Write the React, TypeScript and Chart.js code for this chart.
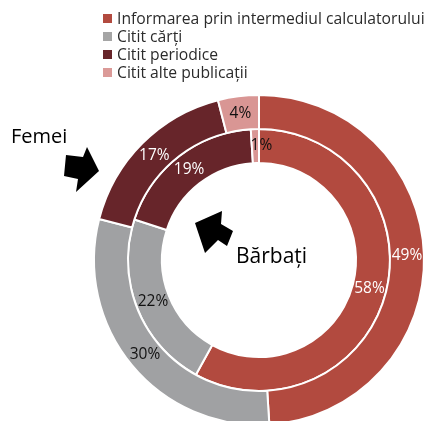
import React, { useEffect, useRef } from "react";
import { Chart, registerables } from "chart.js";

Chart.register(...registerables);

const categories = [
  "Informarea prin intermediul calculatorului",
  "Citit cărți",
  "Citit periodice",
  "Citit alte publicații",
];
const femei = [49, 30, 17, 4];
const barbati = [58, 22, 19, 1];
const seriesNames = ["Femei", "Bărbați"];
const colors = ["#B24A3F", "#A0A1A3", "#67252A", "#D99694"];
const legendColors = ["#B24A3F", "#A5A5A5", "#67252A", "#DB9A98"];
const labelColors = ["#FFFFFF", "#111111", "#FFFFFF", "#111111"];

const FONT = '"Open Sans", "DejaVu Sans", sans-serif';

const labelPlugin = {
  id: "pctLabels",
  afterDatasetsDraw(chart: any) {
    const ctx = chart.ctx;
    ctx.save();
    ctx.font = `15.5px ${FONT}`;
    ctx.textAlign = "center";
    ctx.textBaseline = "middle";
    chart.data.datasets.forEach((ds: any, di: number) => {
      const meta = chart.getDatasetMeta(di);
      meta.data.forEach((arc: any, i: number) => {
        const p = arc.tooltipPosition(false);
        const v = ds.data[i];
        // very thin slices: label shifted just past the slice
        const dx = v < 2 ? 6 : 0;
        ctx.fillStyle = labelColors[i];
        ctx.fillText(v + "%", p.x + dx, p.y);
      });
    });
    ctx.restore();
  },
};

export default function App() {
  const ref = useRef<HTMLCanvasElement | null>(null);

  useEffect(() => {
    if (!ref.current) return;
    const chart = new Chart(ref.current, {
      type: "doughnut",
      data: {
        labels: categories,
        datasets: [
          {
            label: seriesNames[0],
            data: femei,
            backgroundColor: colors,
            borderColor: "#FFFFFF",
            borderWidth: 2,
            hoverOffset: 0,
          },
          {
            label: seriesNames[1],
            data: barbati,
            backgroundColor: colors,
            borderColor: "#FFFFFF",
            borderWidth: 2,
            hoverOffset: 0,
          },
        ],
      },
      options: {
        responsive: false,
        animation: false,
        cutout: "58.8%",
        layout: { padding: { left: 93, right: 2, top: 94, bottom: 94 } },
        plugins: {
          legend: { display: false },
          tooltip: { enabled: false },
        },
        events: [],
      },
      plugins: [labelPlugin],
    });
    return () => chart.destroy();
  }, []);

  return (
    <div
      style={{
        position: "fixed",
        left: 0,
        top: 0,
        width: 427,
        height: 421,
        overflow: "hidden",
        background: "#FFFFFF",
      }}
    >
      <canvas
        ref={ref}
        width={427}
        height={520}
        style={{ position: "absolute", left: 0, top: 0, width: 427, height: 520 }}
      />
      <svg
        width={427}
        height={421}
        style={{ position: "absolute", left: 0, top: 0 }}
      >
        {categories.map((c, i) => (
          <g key={c}>
            <rect x={103} y={14 + i * 18} width={9} height={9} fill={legendColors[i]} />
            <text
              x={117}
              y={24 + i * 18}
              fontFamily={FONT}
              fontSize={15.7}
              fill="#2B2B2B"
            >
              {c}
            </text>
          </g>
        ))}
        <text x={11} y={143} fontFamily={FONT} fontSize={20} fill="#000000">
          {seriesNames[0]}
        </text>
        <polygon
          points="66,155 83,157 87,147 99,171 76,192 78,179 64,176"
          fill="#000000"
        />
        <polygon
          points="195,223 222,211 221,224 233,231 227,246 218,240 205,253"
          fill="#000000"
        />
        <text x={236} y={263} fontFamily={FONT} fontSize={21} fill="#000000">
          {seriesNames[1]}
        </text>
      </svg>
    </div>
  );
}
